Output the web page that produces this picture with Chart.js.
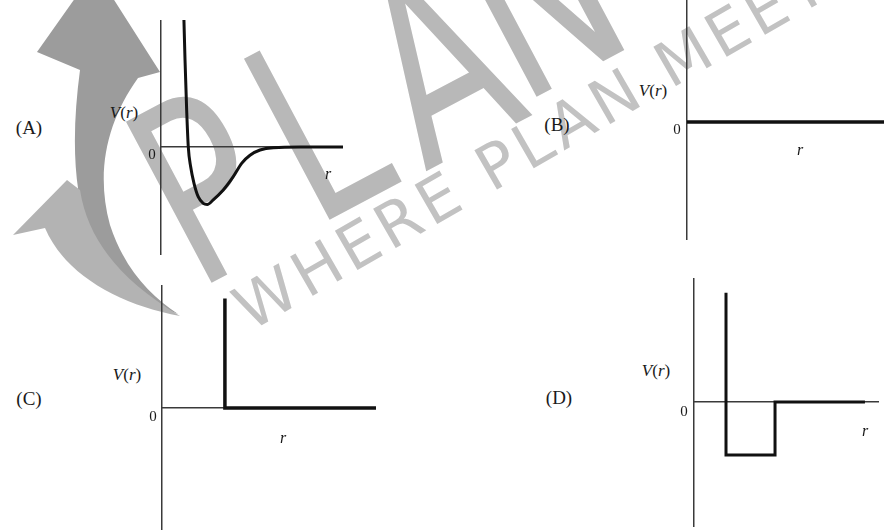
<!DOCTYPE html>
<html>
<head>
<meta charset="utf-8">
<script src="https://cdn.jsdelivr.net/npm/chart.js@4.4.1/dist/chart.umd.min.js"></script>
<style>
  body { margin: 0; background: #fff; }
  #page { position: relative; width: 884px; height: 530px; overflow: hidden; background: #fff;
          font-family: "Liberation Serif", "DejaVu Serif", serif; }
  .mark { position: absolute; left: 0; top: 0; }
  canvas { position: absolute; }
  .lbl { position: absolute; color: #1a1a1a; white-space: nowrap; line-height: 1; transform: translate(-50%, -50%); }
</style>
</head>
<body>
<div id="page">
  <svg class="mark" width="884" height="530">
    <path d="M95,-30 L160,72 L138,78 C108,120 95,170 110,225 C125,270 150,295 178,314 C140,300 105,270 90,235 C72,190 72,130 80,70 L37,52 Z" fill="#9c9c9c"/>
    <path d="M67,180 L80,190 C88,240 120,280 180,316 C120,305 65,275 45,228 L13,235 Z" fill="#b3b3b3"/>
    <g fill="#b8b8b8" font-family="DejaVu Sans" font-size="250">
      <text transform="translate(196,291) rotate(-28) scale(0.72,1)">P</text>
      <text transform="translate(314,228) rotate(-28) scale(0.72,1)">L</text>
      <text transform="translate(425,172) rotate(-28) scale(0.72,1)">A</text>
      <text transform="translate(521,105) rotate(-28) scale(0.72,1)">N</text>
    </g>
    <text transform="translate(250,332) rotate(-30)" font-family="DejaVu Sans" font-size="62"
          letter-spacing="5" fill="#c2c2c2">WHERE PLAN MEETS</text>
  </svg>
</div>
<script>
// (A) molecule-like potential
const rA = [1.26, 1.32, 1.41, 1.50, 1.63, 1.81, 2.05, 2.32, 2.54, 2.87, 3.42, 3.97, 4.43, 4.89, 5.44, 6.17, 7.64, 10];
const vA = [2.19, 1.50, 0.64, 0, -0.34, -0.62, -0.86, -0.97, -0.99, -0.91, -0.74, -0.51, -0.28, -0.14, -0.05, -0.01, 0, 0];
// (B) free particle
const rB = [0, 10];
const vB = [0, 0];
// (C) hard wall
const rC = [2.94, 2.94, 10];
const vC = [0.9, 0, 0];
// (D) wall + square well
const rD = [1.73, 1.73, 4.38, 4.38, 9.24];
const vD = [2.06, -1, -1, 0, 0];

const page = document.getElementById('page');
const pad = 6;

function makePanel(box, r, v, yMin, yMax, opts) {
  let cv = document.createElement('canvas');
  cv.width = box.w + 2 * pad;
  cv.height = box.h + 2 * pad;
  cv.style.left = (box.x - pad) + 'px';
  cv.style.top = (box.y - pad) + 'px';
  page.appendChild(cv);

  let zeroOnly = s => { s.ticks = [{ value: 0 }]; };
  let axis = (min, max) => ({
    type: 'linear',
    min: min,
    max: max,
    afterBuildTicks: zeroOnly,
    ticks: { display: false },
    border: { display: false },
    grid: { color: '#3a3a3a', lineWidth: 1.5, drawTicks: false },
  });

  return new Chart(cv.getContext('2d'), {
    type: 'line',
    data: {
      datasets: [{
        data: r.map((x, i) => ({ x: x, y: v[i] })),
        borderColor: '#111',
        borderWidth: opts.width,
        pointRadius: 0,
        fill: false,
        tension: 0,
        cubicInterpolationMode: opts.smooth ? 'monotone' : 'default',
        clip: 6,
      }]
    },
    options: {
      responsive: false,
      animation: false,
      events: [],
      layout: { padding: pad },
      plugins: { legend: { display: false }, tooltip: { enabled: false } },
      scales: {
        x: axis(0, 10),
        y: axis(yMin, yMax),
      }
    }
  });
}

makePanel({ x: 161, y: 20, w: 182, h: 235 }, rA, vA, -1.86, 2.19, { width: 3, smooth: true });
makePanel({ x: 687, y: 0, w: 197, h: 240 }, rB, vB, -1, 1.034, { width: 3.5 });
makePanel({ x: 162, y: 285, w: 214, h: 245 }, rC, vC, -1, 1.01, { width: 3.5 });
makePanel({ x: 694, y: 278, w: 185, h: 249 }, rD, vD, -2.36, 2.34, { width: 3 });

// labels: [text, x, y, size]
const labels = [
  ['(A)', 29, 127, 19], ['<i>V</i>(<i>r</i>)', 124, 112, 17], ['0', 152, 154, 15], ['<i>r</i>', 328, 174, 16],
  ['(B)', 557, 124, 19], ['<i>V</i>(<i>r</i>)', 653, 90, 17], ['0', 677, 129, 15], ['<i>r</i>', 800, 150, 16],
  ['(C)', 29, 398, 19], ['<i>V</i>(<i>r</i>)', 127, 374, 17], ['0', 153, 416, 15], ['<i>r</i>', 283, 438, 16],
  ['(D)', 559, 397, 19], ['<i>V</i>(<i>r</i>)', 656, 370, 17], ['0', 684, 411, 15], ['<i>r</i>', 865, 431, 16],
];
labels.forEach(([t, x, y, s]) => {
  let el = document.createElement('div');
  el.className = 'lbl';
  el.innerHTML = t;
  el.style.left = x + 'px';
  el.style.top = y + 'px';
  el.style.fontSize = s + 'px';
  page.appendChild(el);
});
</script>
</body>
</html>
